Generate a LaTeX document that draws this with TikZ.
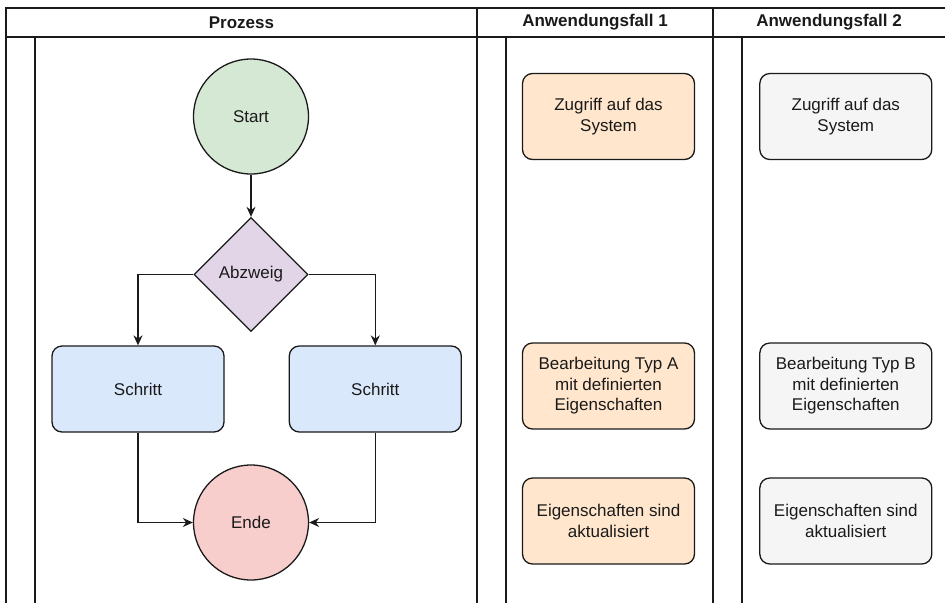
\documentclass[tikz,border=0pt]{standalone}
\usepackage{fontspec}
\setmainfont{Liberation Sans}
\usepackage{xcolor}
\usetikzlibrary{positioning,arrows.meta,shapes.geometric}

\definecolor{startgreen}{HTML}{D5E8D4}
\definecolor{branchlilac}{HTML}{E1D5E7}
\definecolor{stepblue}{HTML}{DAE8FC}
\definecolor{endred}{HTML}{F8CECC}
\definecolor{caseorange}{HTML}{FFE6CC}
\definecolor{casegrey}{HTML}{F5F5F5}
\definecolor{strokedark}{HTML}{1A1A1A}

\begin{document}
\begin{tikzpicture}[
x=1pt, y=-1pt,
node distance=64pt,
every node/.style={font=\fontsize{17}{20.5}\selectfont, text=strokedark},
lane/.style={line width=1.5pt, strokedark},
head/.style={font=\fontsize{17}{20.5}\selectfont\bfseries},
term/.style={circle, draw=strokedark, line width=1.3pt, minimum size=115pt, inner sep=0pt},
branch/.style={diamond, draw=strokedark, line width=1.3pt, fill=branchlilac, minimum width=114pt, minimum height=114pt, inner sep=0pt},
stepbox/.style={draw=strokedark, line width=1.3pt, rounded corners=10pt, minimum width=172pt, minimum height=86pt, align=center, fill=stepblue},
casebox/.style={stepbox, fill=caseorange},
greybox/.style={stepbox, fill=casegrey},
arrow/.style={-{Stealth[length=10pt, width=9pt]}, line width=1.3pt, strokedark}
]
\useasboundingbox (0,0) rectangle (945,603);

% swimlanes
\draw[lane] (6,603) -- (6,8) -- (945,8);
\draw[lane] (6,37) -- (945,37);
\draw[lane] (35,37) -- (35,603);
\draw[lane] (477,8) -- (477,603);
\draw[lane] (506,37) -- (506,603);
\draw[lane] (713,8) -- (713,603);
\draw[lane] (742,37) -- (742,603);

\node[head] (prozess) at (241.5,22.5) {Prozess};
\node[head] (fall1) at (595,22.5) {Anwendungsfall 1};
\node[head] (fall2) at (829,22.5) {Anwendungsfall 2};

% process flow
\node[term, fill=startgreen] (start) at (251,116.5) {Start};
\node[branch] (abzweig) at (251,274.5) {Abzweig};
\node[stepbox] (schrittL) at (138,389) {Schritt};
\node[stepbox, right=of schrittL] (schrittR) {Schritt};
\node[term, fill=endred] (ende) at (251,522.5) {Ende};

\draw[arrow] (start) -- (abzweig);
\draw[arrow] (abzweig.west) -| (schrittL.north);
\draw[arrow] (abzweig.east) -| (schrittR.north);
\draw[arrow] (schrittL.south) |- (ende.west);
\draw[arrow] (schrittR.south) |- (ende.east);

% use cases
\node[casebox] (zugriffA) at (608.5,116.5) {Zugriff auf das\\System};
\node[casebox] (bearbA) at (608.5,386) {Bearbeitung Typ A\\mit definierten\\Eigenschaften};
\node[casebox] (aktA) at (608.5,521) {Eigenschaften sind\\aktualisiert};
\node[greybox, right=of zugriffA] (zugriffB) {Zugriff auf das\\System};
\node[greybox, right=of bearbA] (bearbB) {Bearbeitung Typ B\\mit definierten\\Eigenschaften};
\node[greybox, right=of aktA] (aktB) {Eigenschaften sind\\aktualisiert};
\end{tikzpicture}
\end{document}
